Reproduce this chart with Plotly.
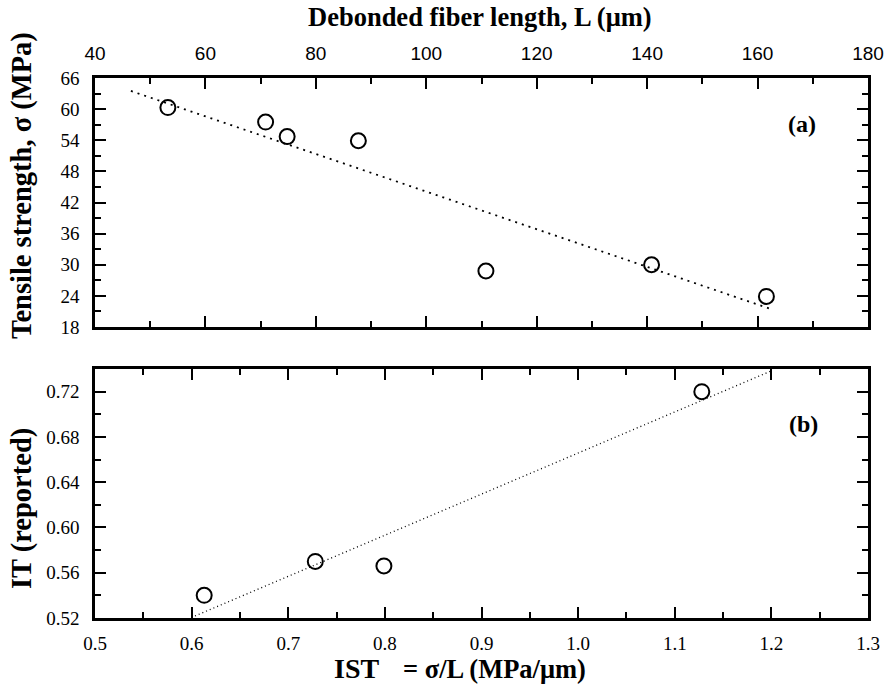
import plotly.graph_objects as go

# ---- data ----
L_um = [53.2, 70.9, 74.8, 87.7, 110.8, 140.8, 161.6]
sigma_MPa = [60.3, 57.5, 54.7, 53.9, 28.8, 30.0, 23.9]
fit_a_L = [46.5, 162.6]
fit_a_sigma = [63.5, 21.4]

IST = [0.613, 0.728, 0.799, 1.128]
IT = [0.540, 0.570, 0.566, 0.720]
fit_b_IST = [0.6035, 1.199]
fit_b_IT = [0.5218, 0.738]

x_ticks_a = [40, 60, 80, 100, 120, 140, 160, 180]
y_ticks_a = [18, 24, 30, 36, 42, 48, 54, 60, 66]
x_ticks_b = [0.5, 0.6, 0.7, 0.8, 0.9, 1.0, 1.1, 1.2, 1.3]
y_ticks_b = [0.52, 0.56, 0.60, 0.64, 0.68, 0.72]

SERIF = "Liberation Serif, Times New Roman, serif"
SANS = "Liberation Sans, Arial, sans-serif"

W, H = 888, 696
ML, MR, MT, MB = 95, 20, 78, 78
PW, PH = W - ML - MR, H - MT - MB


def px(x):
    return (x - ML) / PW


def py(y):
    return (H - MB - y) / PH


fig = go.Figure()

marker = dict(symbol="circle-open", size=15, color="black", line=dict(width=2, color="black"))

fig.add_trace(go.Scatter(x=fit_a_L, y=fit_a_sigma, mode="lines", xaxis="x", yaxis="y",
                         line=dict(color="black", width=1.8, dash="2px,5px"), showlegend=False))
fig.add_trace(go.Scatter(x=L_um, y=sigma_MPa, mode="markers", xaxis="x", yaxis="y",
                         marker=marker, showlegend=False))
fig.add_trace(go.Scatter(x=fit_b_IST, y=fit_b_IT, mode="lines", xaxis="x2", yaxis="y2",
                         line=dict(color="black", width=1.3, dash="1px,3px"), showlegend=False))
fig.add_trace(go.Scatter(x=IST, y=IT, mode="markers", xaxis="x2", yaxis="y2",
                         marker=marker, showlegend=False))

common = dict(showline=True, linecolor="black", linewidth=2.5, mirror="ticks",
              ticks="inside", ticklen=11, tickwidth=2, tickcolor="black",
              showgrid=False, zeroline=False, automargin=False)

top_dom = [py(327), 1.0]
bot_dom = [0.0, py(369)]

fig.update_layout(
    width=W, height=H,
    margin=dict(l=ML, r=MR, t=MT, b=MB),
    paper_bgcolor="white", plot_bgcolor="white",
    xaxis=dict(**common, anchor="y", side="top", range=[40, 180],
               tickvals=x_ticks_a, ticktext=[str(v) for v in x_ticks_a],
               tickfont=dict(family=SANS, size=19, color="black"), ticklabelstandoff=8,
               minor=dict(dtick=10, tick0=40, ticks="inside", ticklen=6, tickwidth=2, tickcolor="black")),
    yaxis=dict(**common, anchor="x", domain=top_dom, range=[18, 66],
               tickvals=y_ticks_a, ticktext=[str(v) for v in y_ticks_a],
               tickfont=dict(family=SERIF, size=19, color="black"), ticklabelstandoff=9,
               minor=dict(dtick=3, tick0=18, ticks="inside", ticklen=6, tickwidth=2, tickcolor="black")),
    xaxis2=dict(**common, anchor="y2", range=[0.5, 1.3],
                tickvals=x_ticks_b, ticktext=[f"{v:.1f}" for v in x_ticks_b],
                tickfont=dict(family=SERIF, size=19, color="black"), ticklabelstandoff=6,
                minor=dict(dtick=0.05, tick0=0.5, ticks="inside", ticklen=6, tickwidth=2, tickcolor="black")),
    yaxis2=dict(**common, anchor="x2", domain=bot_dom, range=[0.52, 0.74],
                tickvals=y_ticks_b, ticktext=[f"{v:.2f}" for v in y_ticks_b],
                tickfont=dict(family=SERIF, size=19, color="black"), ticklabelstandoff=9,
                minor=dict(dtick=0.02, tick0=0.52, ticks="inside", ticklen=6, tickwidth=2, tickcolor="black")),
)

ann_font = dict(family=SERIF, size=26.5, color="black")
yt_font = dict(family=SERIF, size=28.5, color="black")
annotations = [
    dict(text="<b>Debonded fiber length, L (μm)</b>", x=px(480), y=py(17), xref="paper", yref="paper",
         showarrow=False, font=ann_font, xanchor="center", yanchor="middle"),
    dict(text="<b>Tensile strength, σ (MPa)</b>", x=px(22), y=py(186), xref="paper", yref="paper",
         showarrow=False, font=yt_font, textangle=-90, xanchor="center", yanchor="middle"),
    dict(text="<b>IT (reported)</b>", x=px(22), y=py(509), xref="paper", yref="paper",
         showarrow=False, font=yt_font, textangle=-90, xanchor="center", yanchor="middle"),
    dict(text="<b>IST</b>", x=px(332), y=py(668), xref="paper", yref="paper",
         showarrow=False, font=dict(family=SERIF, size=28, color="black"), xanchor="left", yanchor="middle"),
    dict(text="<b>= σ/L (MPa/μm)</b>", x=px(401), y=py(669), xref="paper", yref="paper",
         showarrow=False, font=ann_font, xanchor="left", yanchor="middle"),
    dict(text="<b>(a)</b>", x=px(802), y=py(124), xref="paper", yref="paper",
         showarrow=False, font=dict(family=SERIF, size=24, color="black"), xanchor="center", yanchor="middle"),
    dict(text="<b>(b)</b>", x=px(803), y=py(424), xref="paper", yref="paper",
         showarrow=False, font=dict(family=SERIF, size=24, color="black"), xanchor="center", yanchor="middle"),
]
fig.update_layout(annotations=annotations)

fig.write_html("out.html", config={"displayModeBar": False},
               post_script="document.body.style.margin='0';document.body.style.padding='0';")
